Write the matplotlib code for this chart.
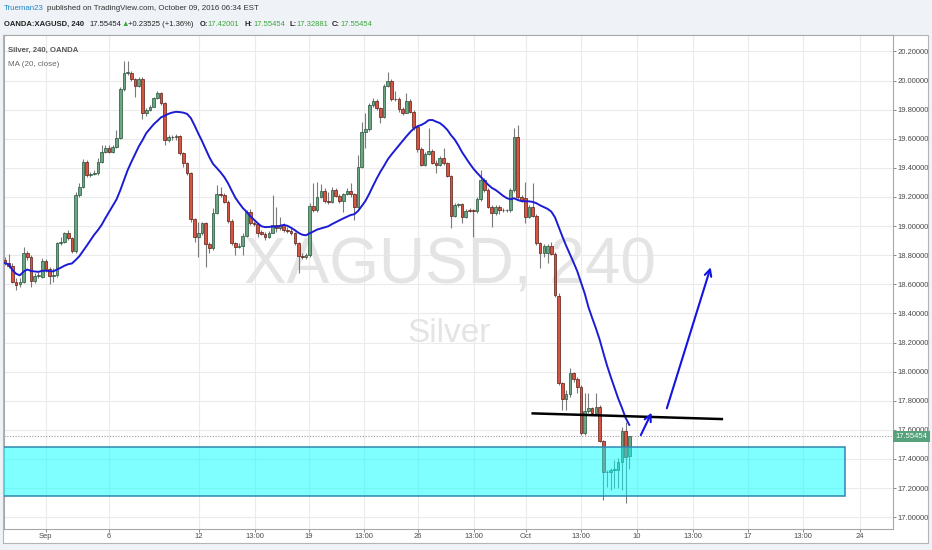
import numpy as np
import pandas as pd
import matplotlib
matplotlib.use("Agg")
import matplotlib.pyplot as plt
from matplotlib.patches import Rectangle

# OANDA:XAGUSD 4h candles
opens = [18.767, 18.745, 18.729, 18.619, 18.602, 18.619, 18.818, 18.790, 18.625, 18.657,
         18.653, 18.763, 18.703, 18.657, 18.664, 18.882, 18.893, 18.951, 18.916, 18.832,
         19.214, 19.271, 19.443, 19.352, 19.359, 19.363, 19.443, 19.512, 19.539, 19.512,
         19.542, 19.608, 19.940, 20.055, 20.055, 20.009, 19.963, 20.014, 19.775, 19.798,
         19.821, 19.879, 19.913, 19.844, 19.592, 19.615, 19.610, 19.620, 19.501, 19.432,
         19.368, 19.047, 18.928, 18.955, 19.019, 18.877, 18.848, 19.093, 19.219, 19.214,
         19.168, 19.038, 18.882, 18.859, 18.866, 18.932, 19.100, 19.024, 19.015, 18.958,
         18.948, 18.928, 18.955, 19.008, 18.985, 19.008, 18.974, 18.969, 18.951, 18.882,
         18.795, 18.786, 18.802, 19.139, 19.111, 19.203, 19.242, 19.175, 19.168, 19.249,
         19.207, 19.175, 19.221, 19.242, 19.221, 19.129, 19.409, 19.649, 19.665, 19.833,
         19.862, 19.810, 19.748, 19.963, 19.998, 19.872, 19.870, 19.803, 19.780, 19.862,
         19.787, 19.684, 19.528, 19.420, 19.494, 19.519, 19.436, 19.420, 19.471, 19.432,
         19.345, 19.072, 19.145, 19.150, 19.061, 19.107, 19.105, 19.104, 19.184, 19.317,
         19.249, 19.134, 19.088, 19.134, 19.111, 19.109, 19.111, 19.249, 19.615, 19.198,
         19.191, 19.061, 19.134, 19.070, 18.882, 18.813, 18.813, 18.866, 18.809, 18.522,
         17.920, 17.810, 17.846, 17.988, 17.947, 17.897, 17.581, 17.732, 17.748, 17.714,
         17.755, 17.526, 17.313, 17.308, 17.324, 17.326, 17.381, 17.594, 17.42001]
highs = [18.790, 18.806, 18.745, 18.641, 18.641, 18.859, 18.832, 18.802, 18.676, 18.687,
         18.779, 18.772, 18.717, 18.710, 18.893, 18.928, 18.962, 18.974, 18.928, 19.237,
         19.294, 19.459, 19.455, 19.375, 19.386, 19.466, 19.558, 19.558, 19.558, 19.558,
         19.661, 19.959, 20.131, 20.131, 20.069, 20.016, 20.023, 20.023, 19.810, 19.833,
         19.890, 19.931, 19.924, 19.856, 19.627, 19.627, 19.633, 19.627, 19.512, 19.443,
         19.375, 19.054, 19.031, 19.031, 19.031, 18.893, 19.123, 19.283, 19.271, 19.226,
         19.180, 19.047, 18.893, 18.882, 18.951, 19.111, 19.116, 19.038, 19.024, 18.974,
         18.962, 18.969, 19.214, 19.134, 19.065, 19.019, 18.997, 18.985, 18.962, 18.893,
         18.813, 18.818, 19.157, 19.294, 19.306, 19.290, 19.260, 19.237, 19.271, 19.260,
         19.221, 19.230, 19.260, 19.294, 19.230, 19.489, 19.718, 19.775, 19.844, 19.879,
         19.872, 19.821, 19.977, 20.062, 20.009, 19.931, 19.885, 19.821, 19.913, 19.872,
         19.798, 19.695, 19.542, 19.512, 19.672, 19.528, 19.455, 19.482, 19.535, 19.443,
         19.352, 19.157, 19.161, 19.157, 19.116, 19.123, 19.116, 19.203, 19.386, 19.329,
         19.260, 19.145, 19.145, 19.145, 19.123, 19.120, 19.260, 19.672, 19.695, 19.214,
         19.306, 19.145, 19.294, 19.084, 18.893, 18.877, 18.877, 18.893, 18.825, 18.538,
         17.931, 17.874, 18.023, 18.000, 17.966, 17.908, 17.851, 17.851, 17.759, 17.851,
         17.771, 17.530, 17.324, 17.336, 17.393, 17.404, 17.622, 17.656, 17.55454]
lows = [18.733, 18.710, 18.607, 18.561, 18.584, 18.607, 18.767, 18.584, 18.612, 18.641,
        18.641, 18.687, 18.602, 18.619, 18.653, 18.871, 18.882, 18.905, 18.818, 18.818,
        19.203, 19.260, 19.340, 19.340, 19.352, 19.352, 19.432, 19.501, 19.505, 19.505,
        19.535, 19.597, 19.931, 20.039, 19.998, 19.890, 19.959, 19.734, 19.753, 19.794,
        19.817, 19.872, 19.833, 19.558, 19.581, 19.592, 19.592, 19.489, 19.409, 19.352,
        19.031, 18.893, 18.790, 18.939, 18.722, 18.813, 18.836, 19.084, 19.203, 19.157,
        19.019, 18.871, 18.802, 18.848, 18.802, 18.923, 19.008, 19.001, 18.928, 18.939,
        18.905, 18.916, 18.951, 18.962, 18.974, 18.962, 18.955, 18.939, 18.871, 18.676,
        18.772, 18.772, 18.790, 19.100, 19.100, 19.191, 19.161, 19.152, 19.161, 19.198,
        19.161, 19.100, 19.214, 19.203, 19.042, 19.123, 19.397, 19.535, 19.656, 19.821,
        19.798, 19.707, 19.741, 19.959, 19.862, 19.862, 19.787, 19.764, 19.775, 19.775,
        19.661, 19.512, 19.413, 19.413, 19.489, 19.427, 19.363, 19.413, 19.420, 19.336,
        18.985, 19.065, 19.134, 19.019, 19.054, 19.097, 18.928, 19.093, 19.175, 19.237,
        19.123, 18.997, 19.077, 19.084, 19.100, 19.100, 19.100, 19.237, 19.184, 19.168,
        19.019, 19.054, 19.061, 18.871, 18.710, 18.790, 18.745, 18.802, 18.515, 17.908,
        17.736, 17.736, 17.828, 17.931, 17.851, 17.565, 17.565, 17.714, 17.702, 17.702,
        17.519, 17.118, 17.210, 17.187, 17.198, 17.198, 17.187, 17.095, 17.32881]
closes = [18.745, 18.729, 18.619, 18.596, 18.619, 18.813, 18.790, 18.625, 18.657, 18.664,
          18.763, 18.703, 18.657, 18.664, 18.882, 18.893, 18.951, 18.916, 18.832, 19.214,
          19.271, 19.443, 19.352, 19.359, 19.363, 19.443, 19.512, 19.539, 19.512, 19.542,
          19.608, 19.940, 20.055, 20.057, 20.009, 19.963, 20.014, 19.775, 19.798, 19.821,
          19.879, 19.913, 19.844, 19.592, 19.615, 19.610, 19.620, 19.501, 19.432, 19.368,
          19.047, 18.928, 18.955, 19.019, 18.877, 18.848, 19.093, 19.219, 19.214, 19.168,
          19.038, 18.882, 18.859, 18.866, 18.932, 19.100, 19.019, 19.015, 18.951, 18.948,
          18.928, 18.955, 19.008, 18.985, 19.008, 18.974, 18.969, 18.951, 18.882, 18.795,
          18.786, 18.802, 19.139, 19.111, 19.198, 19.242, 19.175, 19.168, 19.249, 19.207,
          19.175, 19.221, 19.242, 19.221, 19.129, 19.409, 19.649, 19.665, 19.833, 19.862,
          19.810, 19.748, 19.963, 19.998, 19.872, 19.870, 19.803, 19.780, 19.862, 19.787,
          19.684, 19.528, 19.420, 19.494, 19.519, 19.436, 19.420, 19.471, 19.432, 19.345,
          19.072, 19.145, 19.150, 19.061, 19.107, 19.105, 19.104, 19.184, 19.317, 19.249,
          19.134, 19.088, 19.134, 19.111, 19.109, 19.111, 19.249, 19.615, 19.198, 19.180,
          19.061, 19.134, 19.070, 18.882, 18.813, 18.864, 18.866, 18.809, 18.527, 17.920,
          17.810, 17.846, 17.988, 17.947, 17.897, 17.581, 17.732, 17.748, 17.714, 17.755,
          17.526, 17.313, 17.308, 17.324, 17.326, 17.381, 17.594, 17.416, 17.55454]

# time axis labels (positions in bar units)
tick_pos = [11.0, 28.0, 52.2, 67.3, 81.8, 96.6, 111.1, 126.2, 140.2, 155.0,
            170.1, 185.1, 199.9, 214.7, 230.1]
tick_labels = ["Sep", "6", "12", "13:00", "19", "13:00", "26", "13:00", "Oct", "13:00",
               "10", "13:00", "17", "13:00", "24"]
price_ticks = [17.0, 17.2, 17.4, 17.6, 17.8, 18.0, 18.2, 18.4, 18.6, 18.8,
               19.0, 19.2, 19.4, 19.6, 19.8, 20.0, 20.2]

last_price = 17.55454
zone = (17.147, 17.484)          # support zone
trend_line = [(142.0, 17.713), (192.9, 17.674)]
small_arrow = [(171.1, 17.564), (174.0, 17.718)]
big_arrow = [(178.1, 17.748), (189.9, 18.717)]

plt.rcParams["font.family"] = ["Liberation Sans", "DejaVu Sans"]

W, H = 932, 550
fig = plt.figure(figsize=(W / 100, H / 100), dpi=100, facecolor="#eff2f6")
fig.patches.append(Rectangle((3 / W, 7 / H), 925 / W, 508 / H, transform=fig.transFigure,
                             fc="white", ec="#b4b4b4", lw=0.8, zorder=-1))
ax = fig.add_axes([4 / W, 1 - 528.5 / H, 889.3 / W, 493.5 / H])
ax.set_facecolor("white")

x = np.arange(len(closes))
o = np.array(opens)
c = np.array(closes)
hi = np.array(highs)
lo = np.array(lows)
up = c >= o

ax.vlines(x, lo, hi, color="#7a7a7a", lw=0.8, zorder=2)
body = np.maximum(np.abs(c - o), 0.004)
ax.bar(x[up], body[up], bottom=np.minimum(o, c)[up], width=0.72,
       color="#6ba583", edgecolor="#225437", lw=0.5, zorder=3)
ax.bar(x[~up], body[~up], bottom=np.minimum(o, c)[~up], width=0.72,
       color="#d75442", edgecolor="#5b1a13", lw=0.5, zorder=3)

ma = pd.Series(closes).rolling(20, min_periods=1).mean()
ax.plot(x, ma, color="#1c1cd4", lw=1.4, zorder=4)

# watermark
ax.text(449.5 / W, 1 - 283 / H, "XAGUSD, 240", transform=fig.transFigure, ha="center",
        va="baseline", fontsize=46, color="#e4e4e4", zorder=0.8)
ax.text(449 / W, 1 - 342 / H, "Silver", transform=fig.transFigure, ha="center",
        va="baseline", fontsize=24, color="#e4e4e4", zorder=0.8)

# drawings
ax.add_patch(Rectangle((-5, zone[0]), 226.0 + 5, zone[1] - zone[0], fc=(0, 1, 1),
                       alpha=0.5, ec="none", zorder=5))
ax.add_patch(Rectangle((-5, zone[0]), 226.0 + 5, zone[1] - zone[0], fc="none",
                       ec="#2f86b0", lw=1.1, zorder=5))
ax.plot([p[0] for p in trend_line], [p[1] for p in trend_line], color="black", lw=1.8, zorder=6)
for a in (small_arrow, big_arrow):
    ax.annotate("", xy=a[1], xytext=a[0],
                arrowprops=dict(arrowstyle="->", color="#1414e0", lw=1.5,
                                mutation_scale=12, shrinkA=0, shrinkB=0), zorder=6)

ax.axhline(last_price, color="#9a9a9a", lw=0.8, ls=(0, (1, 1.5)), zorder=1)

ax.set_xlim(-0.27, 239.04)
ax.set_ylim(16.922, 20.313)
ax.set_xticks(tick_pos)
ax.set_xticklabels(tick_labels)
ax.set_yticks(price_ticks)
ax.set_yticklabels(["%.5f" % v for v in price_ticks])
ax.yaxis.tick_right()
ax.tick_params(axis="both", direction="out", length=2, width=0.7, color="#888888",
               labelsize=5.5, labelcolor="#4a4a4a", pad=1.2)
ax.grid(True, color="#ebebeb", lw=0.8)
ax.set_axisbelow(True)
for s in ax.spines.values():
    s.set_color("#a8a8a8")
    s.set_linewidth(0.8)

ax.annotate("%.5f" % last_price, xy=(1, last_price), xycoords=("axes fraction", "data"),
            xytext=(1.5, 0), textcoords="offset points", ha="left", va="center",
            fontsize=5.5, color="white", annotation_clip=False, zorder=10,
            bbox=dict(boxstyle="square,pad=0.3", fc="#55a27c", ec="none"))

# legend texts in the pane
ax.text(8 / W, 1 - 50 / H, "Silver, 240, OANDA", transform=fig.transFigure, fontsize=5.6,
        fontweight="bold", color="#555555", va="center")
ax.text(8 / W, 1 - 64 / H, "MA (20, close)", transform=fig.transFigure, fontsize=5.8,
        color="#666666", va="center")

# header
fig.text(4 / W, 1 - 8 / H, "Trueman23", fontsize=5.7, color="#1f86c9", va="center")
fig.text(47 / W, 1 - 8 / H, "published on TradingView.com, October 09, 2016 06:34 EST",
         fontsize=5.7, color="#333333", va="center")
green = "#3ea63e"
header = [("OANDA:XAGUSD, 240", 4, "bold", "#222222"),
          ("17.55454", 89, "normal", "#222222"),
          ("\u25b2", 121, "normal", green),
          ("+0.23525 (+1.36%)", 128, "normal", "#222222"),
          ("O:", 200, "bold", "#222222"), ("17.42001", 207, "normal", green),
          ("H:", 244, "bold", "#222222"), ("17.55454", 253, "normal", green),
          ("L:", 289, "bold", "#222222"), ("17.32881", 296, "normal", green),
          ("C:", 332, "bold", "#222222"), ("17.55454", 340, "normal", green)]
for txt, xp, fw, col in header:
    fig.text(xp / W, 1 - 24 / H, txt, fontsize=5.5, fontweight=fw, color=col, va="center")

fig.savefig("out.png", dpi=100, facecolor=fig.get_facecolor())
